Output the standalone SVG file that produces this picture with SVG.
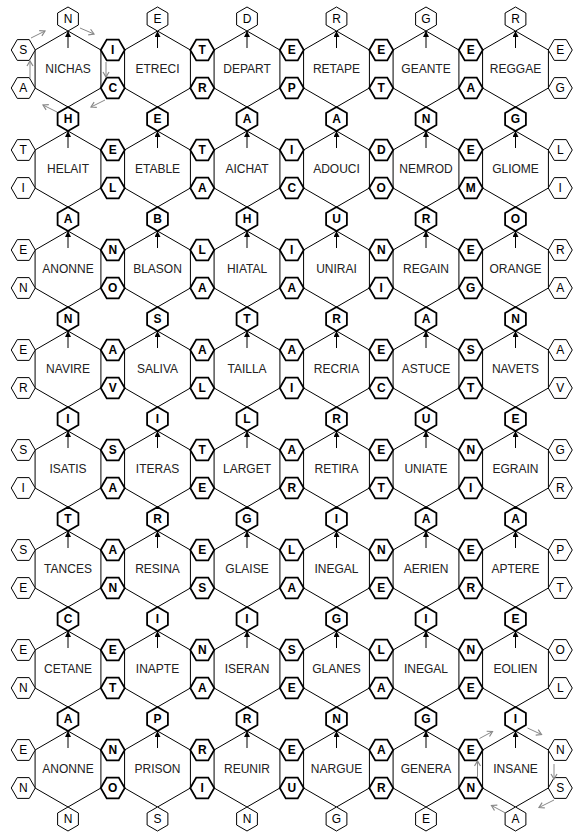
<svg xmlns="http://www.w3.org/2000/svg" width="575" height="834" viewBox="0 0 575 834">
<style>
text{font-family:"Liberation Sans",Arial,Helvetica,sans-serif;text-anchor:middle}
.big use{fill:none;stroke:#000;stroke-width:1}
.big text{font-size:12px;fill:#222}
.t use,.b use{fill:#fff;stroke:#000}
.t use{stroke-width:1}
.b use{stroke-width:1.8}
.t text,.b text{font-size:12px;fill:#000}
.b text{font-weight:bold}
.ar path{fill:none;stroke:#000;stroke-width:1;marker-end:url(#ah)}
.gr path{fill:none;stroke:#888;stroke-width:1;marker-end:url(#ga)}
</style>
<defs>
<polygon id="BH" points="0,-38 32.91,-19 32.91,19 0,38 -32.91,19 -32.91,-19"/>
<polygon id="sv" points="0,-12 10.39,-6 10.39,6 0,12 -10.39,6 -10.39,-6"/>
<polygon id="sh" points="-12,0 -6,-10.39 6,-10.39 12,0 6,10.39 -6,10.39"/>
<marker id="ah" markerWidth="7" markerHeight="6" refX="6" refY="3" orient="auto" markerUnits="userSpaceOnUse"><path d="M0,0 L6,3 L0,6 z" fill="#000"/></marker>
<marker id="ga" markerWidth="8" markerHeight="8" refX="6" refY="4" orient="auto" markerUnits="userSpaceOnUse"><path d="M1,1 L6,4 L1,7" fill="none" stroke="#888" stroke-width="1.2"/></marker>
</defs>
<rect width="575" height="834" fill="#fff"/>
<g id="big-hexes">
<g id="hex-1-1" class="big" transform="translate(68,69)"><use href="#BH"/><text y="4.3">NICHAS</text></g>
<g id="hex-1-2" class="big" transform="translate(157.5,69)"><use href="#BH"/><text y="4.3">ETRECI</text></g>
<g id="hex-1-3" class="big" transform="translate(247,69)"><use href="#BH"/><text y="4.3">DEPART</text></g>
<g id="hex-1-4" class="big" transform="translate(336.5,69)"><use href="#BH"/><text y="4.3">RETAPE</text></g>
<g id="hex-1-5" class="big" transform="translate(426,69)"><use href="#BH"/><text y="4.3">GEANTE</text></g>
<g id="hex-1-6" class="big" transform="translate(515.5,69)"><use href="#BH"/><text y="4.3">REGGAE</text></g>
<g id="hex-2-1" class="big" transform="translate(68,169)"><use href="#BH"/><text y="4.3">HELAIT</text></g>
<g id="hex-2-2" class="big" transform="translate(157.5,169)"><use href="#BH"/><text y="4.3">ETABLE</text></g>
<g id="hex-2-3" class="big" transform="translate(247,169)"><use href="#BH"/><text y="4.3">AICHAT</text></g>
<g id="hex-2-4" class="big" transform="translate(336.5,169)"><use href="#BH"/><text y="4.3">ADOUCI</text></g>
<g id="hex-2-5" class="big" transform="translate(426,169)"><use href="#BH"/><text y="4.3">NEMROD</text></g>
<g id="hex-2-6" class="big" transform="translate(515.5,169)"><use href="#BH"/><text y="4.3">GLIOME</text></g>
<g id="hex-3-1" class="big" transform="translate(68,269)"><use href="#BH"/><text y="4.3">ANONNE</text></g>
<g id="hex-3-2" class="big" transform="translate(157.5,269)"><use href="#BH"/><text y="4.3">BLASON</text></g>
<g id="hex-3-3" class="big" transform="translate(247,269)"><use href="#BH"/><text y="4.3">HIATAL</text></g>
<g id="hex-3-4" class="big" transform="translate(336.5,269)"><use href="#BH"/><text y="4.3">UNIRAI</text></g>
<g id="hex-3-5" class="big" transform="translate(426,269)"><use href="#BH"/><text y="4.3">REGAIN</text></g>
<g id="hex-3-6" class="big" transform="translate(515.5,269)"><use href="#BH"/><text y="4.3">ORANGE</text></g>
<g id="hex-4-1" class="big" transform="translate(68,369)"><use href="#BH"/><text y="4.3">NAVIRE</text></g>
<g id="hex-4-2" class="big" transform="translate(157.5,369)"><use href="#BH"/><text y="4.3">SALIVA</text></g>
<g id="hex-4-3" class="big" transform="translate(247,369)"><use href="#BH"/><text y="4.3">TAILLA</text></g>
<g id="hex-4-4" class="big" transform="translate(336.5,369)"><use href="#BH"/><text y="4.3">RECRIA</text></g>
<g id="hex-4-5" class="big" transform="translate(426,369)"><use href="#BH"/><text y="4.3">ASTUCE</text></g>
<g id="hex-4-6" class="big" transform="translate(515.5,369)"><use href="#BH"/><text y="4.3">NAVETS</text></g>
<g id="hex-5-1" class="big" transform="translate(68,469)"><use href="#BH"/><text y="4.3">ISATIS</text></g>
<g id="hex-5-2" class="big" transform="translate(157.5,469)"><use href="#BH"/><text y="4.3">ITERAS</text></g>
<g id="hex-5-3" class="big" transform="translate(247,469)"><use href="#BH"/><text y="4.3">LARGET</text></g>
<g id="hex-5-4" class="big" transform="translate(336.5,469)"><use href="#BH"/><text y="4.3">RETIRA</text></g>
<g id="hex-5-5" class="big" transform="translate(426,469)"><use href="#BH"/><text y="4.3">UNIATE</text></g>
<g id="hex-5-6" class="big" transform="translate(515.5,469)"><use href="#BH"/><text y="4.3">EGRAIN</text></g>
<g id="hex-6-1" class="big" transform="translate(68,569)"><use href="#BH"/><text y="4.3">TANCES</text></g>
<g id="hex-6-2" class="big" transform="translate(157.5,569)"><use href="#BH"/><text y="4.3">RESINA</text></g>
<g id="hex-6-3" class="big" transform="translate(247,569)"><use href="#BH"/><text y="4.3">GLAISE</text></g>
<g id="hex-6-4" class="big" transform="translate(336.5,569)"><use href="#BH"/><text y="4.3">INEGAL</text></g>
<g id="hex-6-5" class="big" transform="translate(426,569)"><use href="#BH"/><text y="4.3">AERIEN</text></g>
<g id="hex-6-6" class="big" transform="translate(515.5,569)"><use href="#BH"/><text y="4.3">APTERE</text></g>
<g id="hex-7-1" class="big" transform="translate(68,669)"><use href="#BH"/><text y="4.3">CETANE</text></g>
<g id="hex-7-2" class="big" transform="translate(157.5,669)"><use href="#BH"/><text y="4.3">INAPTE</text></g>
<g id="hex-7-3" class="big" transform="translate(247,669)"><use href="#BH"/><text y="4.3">ISERAN</text></g>
<g id="hex-7-4" class="big" transform="translate(336.5,669)"><use href="#BH"/><text y="4.3">GLANES</text></g>
<g id="hex-7-5" class="big" transform="translate(426,669)"><use href="#BH"/><text y="4.3">INEGAL</text></g>
<g id="hex-7-6" class="big" transform="translate(515.5,669)"><use href="#BH"/><text y="4.3">EOLIEN</text></g>
<g id="hex-8-1" class="big" transform="translate(68,769)"><use href="#BH"/><text y="4.3">ANONNE</text></g>
<g id="hex-8-2" class="big" transform="translate(157.5,769)"><use href="#BH"/><text y="4.3">PRISON</text></g>
<g id="hex-8-3" class="big" transform="translate(247,769)"><use href="#BH"/><text y="4.3">REUNIR</text></g>
<g id="hex-8-4" class="big" transform="translate(336.5,769)"><use href="#BH"/><text y="4.3">NARGUE</text></g>
<g id="hex-8-5" class="big" transform="translate(426,769)"><use href="#BH"/><text y="4.3">GENERA</text></g>
<g id="hex-8-6" class="big" transform="translate(515.5,769)"><use href="#BH"/><text y="4.3">INSANE</text></g>
</g>
<g id="vertical-letters">
<g id="v0-1" class="t" transform="translate(68,19)"><use href="#sv"/><text y="4.3">N</text></g>
<g id="v0-2" class="t" transform="translate(157.5,19)"><use href="#sv"/><text y="4.3">E</text></g>
<g id="v0-3" class="t" transform="translate(247,19)"><use href="#sv"/><text y="4.3">D</text></g>
<g id="v0-4" class="t" transform="translate(336.5,19)"><use href="#sv"/><text y="4.3">R</text></g>
<g id="v0-5" class="t" transform="translate(426,19)"><use href="#sv"/><text y="4.3">G</text></g>
<g id="v0-6" class="t" transform="translate(515.5,19)"><use href="#sv"/><text y="4.3">R</text></g>
<g id="v1-1" class="b" transform="translate(68,119)"><use href="#sv"/><text y="4.3">H</text></g>
<g id="v1-2" class="b" transform="translate(157.5,119)"><use href="#sv"/><text y="4.3">E</text></g>
<g id="v1-3" class="b" transform="translate(247,119)"><use href="#sv"/><text y="4.3">A</text></g>
<g id="v1-4" class="b" transform="translate(336.5,119)"><use href="#sv"/><text y="4.3">A</text></g>
<g id="v1-5" class="b" transform="translate(426,119)"><use href="#sv"/><text y="4.3">N</text></g>
<g id="v1-6" class="b" transform="translate(515.5,119)"><use href="#sv"/><text y="4.3">G</text></g>
<g id="v2-1" class="b" transform="translate(68,219)"><use href="#sv"/><text y="4.3">A</text></g>
<g id="v2-2" class="b" transform="translate(157.5,219)"><use href="#sv"/><text y="4.3">B</text></g>
<g id="v2-3" class="b" transform="translate(247,219)"><use href="#sv"/><text y="4.3">H</text></g>
<g id="v2-4" class="b" transform="translate(336.5,219)"><use href="#sv"/><text y="4.3">U</text></g>
<g id="v2-5" class="b" transform="translate(426,219)"><use href="#sv"/><text y="4.3">R</text></g>
<g id="v2-6" class="b" transform="translate(515.5,219)"><use href="#sv"/><text y="4.3">O</text></g>
<g id="v3-1" class="b" transform="translate(68,319)"><use href="#sv"/><text y="4.3">N</text></g>
<g id="v3-2" class="b" transform="translate(157.5,319)"><use href="#sv"/><text y="4.3">S</text></g>
<g id="v3-3" class="b" transform="translate(247,319)"><use href="#sv"/><text y="4.3">T</text></g>
<g id="v3-4" class="b" transform="translate(336.5,319)"><use href="#sv"/><text y="4.3">R</text></g>
<g id="v3-5" class="b" transform="translate(426,319)"><use href="#sv"/><text y="4.3">A</text></g>
<g id="v3-6" class="b" transform="translate(515.5,319)"><use href="#sv"/><text y="4.3">N</text></g>
<g id="v4-1" class="b" transform="translate(68,419)"><use href="#sv"/><text y="4.3">I</text></g>
<g id="v4-2" class="b" transform="translate(157.5,419)"><use href="#sv"/><text y="4.3">I</text></g>
<g id="v4-3" class="b" transform="translate(247,419)"><use href="#sv"/><text y="4.3">L</text></g>
<g id="v4-4" class="b" transform="translate(336.5,419)"><use href="#sv"/><text y="4.3">R</text></g>
<g id="v4-5" class="b" transform="translate(426,419)"><use href="#sv"/><text y="4.3">U</text></g>
<g id="v4-6" class="b" transform="translate(515.5,419)"><use href="#sv"/><text y="4.3">E</text></g>
<g id="v5-1" class="b" transform="translate(68,519)"><use href="#sv"/><text y="4.3">T</text></g>
<g id="v5-2" class="b" transform="translate(157.5,519)"><use href="#sv"/><text y="4.3">R</text></g>
<g id="v5-3" class="b" transform="translate(247,519)"><use href="#sv"/><text y="4.3">G</text></g>
<g id="v5-4" class="b" transform="translate(336.5,519)"><use href="#sv"/><text y="4.3">I</text></g>
<g id="v5-5" class="b" transform="translate(426,519)"><use href="#sv"/><text y="4.3">A</text></g>
<g id="v5-6" class="b" transform="translate(515.5,519)"><use href="#sv"/><text y="4.3">A</text></g>
<g id="v6-1" class="b" transform="translate(68,619)"><use href="#sv"/><text y="4.3">C</text></g>
<g id="v6-2" class="b" transform="translate(157.5,619)"><use href="#sv"/><text y="4.3">I</text></g>
<g id="v6-3" class="b" transform="translate(247,619)"><use href="#sv"/><text y="4.3">I</text></g>
<g id="v6-4" class="b" transform="translate(336.5,619)"><use href="#sv"/><text y="4.3">G</text></g>
<g id="v6-5" class="b" transform="translate(426,619)"><use href="#sv"/><text y="4.3">I</text></g>
<g id="v6-6" class="b" transform="translate(515.5,619)"><use href="#sv"/><text y="4.3">E</text></g>
<g id="v7-1" class="b" transform="translate(68,719)"><use href="#sv"/><text y="4.3">A</text></g>
<g id="v7-2" class="b" transform="translate(157.5,719)"><use href="#sv"/><text y="4.3">P</text></g>
<g id="v7-3" class="b" transform="translate(247,719)"><use href="#sv"/><text y="4.3">R</text></g>
<g id="v7-4" class="b" transform="translate(336.5,719)"><use href="#sv"/><text y="4.3">N</text></g>
<g id="v7-5" class="b" transform="translate(426,719)"><use href="#sv"/><text y="4.3">G</text></g>
<g id="v7-6" class="b" transform="translate(515.5,719)"><use href="#sv"/><text y="4.3">I</text></g>
<g id="v8-1" class="t" transform="translate(68,819)"><use href="#sv"/><text y="4.3">N</text></g>
<g id="v8-2" class="t" transform="translate(157.5,819)"><use href="#sv"/><text y="4.3">S</text></g>
<g id="v8-3" class="t" transform="translate(247,819)"><use href="#sv"/><text y="4.3">N</text></g>
<g id="v8-4" class="t" transform="translate(336.5,819)"><use href="#sv"/><text y="4.3">G</text></g>
<g id="v8-5" class="t" transform="translate(426,819)"><use href="#sv"/><text y="4.3">E</text></g>
<g id="v8-6" class="t" transform="translate(515.5,819)"><use href="#sv"/><text y="4.3">A</text></g>
</g>
<g id="side-letters">
<g id="s1u-0" class="t" transform="translate(23.25,50)"><use href="#sh"/><text y="4.3">S</text></g>
<g id="s1u-1" class="b" transform="translate(112.75,50)"><use href="#sh"/><text y="4.3">I</text></g>
<g id="s1u-2" class="b" transform="translate(202.25,50)"><use href="#sh"/><text y="4.3">T</text></g>
<g id="s1u-3" class="b" transform="translate(291.75,50)"><use href="#sh"/><text y="4.3">E</text></g>
<g id="s1u-4" class="b" transform="translate(381.25,50)"><use href="#sh"/><text y="4.3">E</text></g>
<g id="s1u-5" class="b" transform="translate(470.75,50)"><use href="#sh"/><text y="4.3">E</text></g>
<g id="s1u-6" class="t" transform="translate(560.25,50)"><use href="#sh"/><text y="4.3">E</text></g>
<g id="s1l-0" class="t" transform="translate(23.25,88)"><use href="#sh"/><text y="4.3">A</text></g>
<g id="s1l-1" class="b" transform="translate(112.75,88)"><use href="#sh"/><text y="4.3">C</text></g>
<g id="s1l-2" class="b" transform="translate(202.25,88)"><use href="#sh"/><text y="4.3">R</text></g>
<g id="s1l-3" class="b" transform="translate(291.75,88)"><use href="#sh"/><text y="4.3">P</text></g>
<g id="s1l-4" class="b" transform="translate(381.25,88)"><use href="#sh"/><text y="4.3">T</text></g>
<g id="s1l-5" class="b" transform="translate(470.75,88)"><use href="#sh"/><text y="4.3">A</text></g>
<g id="s1l-6" class="t" transform="translate(560.25,88)"><use href="#sh"/><text y="4.3">G</text></g>
<g id="s2u-0" class="t" transform="translate(23.25,150)"><use href="#sh"/><text y="4.3">T</text></g>
<g id="s2u-1" class="b" transform="translate(112.75,150)"><use href="#sh"/><text y="4.3">E</text></g>
<g id="s2u-2" class="b" transform="translate(202.25,150)"><use href="#sh"/><text y="4.3">T</text></g>
<g id="s2u-3" class="b" transform="translate(291.75,150)"><use href="#sh"/><text y="4.3">I</text></g>
<g id="s2u-4" class="b" transform="translate(381.25,150)"><use href="#sh"/><text y="4.3">D</text></g>
<g id="s2u-5" class="b" transform="translate(470.75,150)"><use href="#sh"/><text y="4.3">E</text></g>
<g id="s2u-6" class="t" transform="translate(560.25,150)"><use href="#sh"/><text y="4.3">L</text></g>
<g id="s2l-0" class="t" transform="translate(23.25,188)"><use href="#sh"/><text y="4.3">I</text></g>
<g id="s2l-1" class="b" transform="translate(112.75,188)"><use href="#sh"/><text y="4.3">L</text></g>
<g id="s2l-2" class="b" transform="translate(202.25,188)"><use href="#sh"/><text y="4.3">A</text></g>
<g id="s2l-3" class="b" transform="translate(291.75,188)"><use href="#sh"/><text y="4.3">C</text></g>
<g id="s2l-4" class="b" transform="translate(381.25,188)"><use href="#sh"/><text y="4.3">O</text></g>
<g id="s2l-5" class="b" transform="translate(470.75,188)"><use href="#sh"/><text y="4.3">M</text></g>
<g id="s2l-6" class="t" transform="translate(560.25,188)"><use href="#sh"/><text y="4.3">I</text></g>
<g id="s3u-0" class="t" transform="translate(23.25,250)"><use href="#sh"/><text y="4.3">E</text></g>
<g id="s3u-1" class="b" transform="translate(112.75,250)"><use href="#sh"/><text y="4.3">N</text></g>
<g id="s3u-2" class="b" transform="translate(202.25,250)"><use href="#sh"/><text y="4.3">L</text></g>
<g id="s3u-3" class="b" transform="translate(291.75,250)"><use href="#sh"/><text y="4.3">I</text></g>
<g id="s3u-4" class="b" transform="translate(381.25,250)"><use href="#sh"/><text y="4.3">N</text></g>
<g id="s3u-5" class="b" transform="translate(470.75,250)"><use href="#sh"/><text y="4.3">E</text></g>
<g id="s3u-6" class="t" transform="translate(560.25,250)"><use href="#sh"/><text y="4.3">R</text></g>
<g id="s3l-0" class="t" transform="translate(23.25,288)"><use href="#sh"/><text y="4.3">N</text></g>
<g id="s3l-1" class="b" transform="translate(112.75,288)"><use href="#sh"/><text y="4.3">O</text></g>
<g id="s3l-2" class="b" transform="translate(202.25,288)"><use href="#sh"/><text y="4.3">A</text></g>
<g id="s3l-3" class="b" transform="translate(291.75,288)"><use href="#sh"/><text y="4.3">A</text></g>
<g id="s3l-4" class="b" transform="translate(381.25,288)"><use href="#sh"/><text y="4.3">I</text></g>
<g id="s3l-5" class="b" transform="translate(470.75,288)"><use href="#sh"/><text y="4.3">G</text></g>
<g id="s3l-6" class="t" transform="translate(560.25,288)"><use href="#sh"/><text y="4.3">A</text></g>
<g id="s4u-0" class="t" transform="translate(23.25,350)"><use href="#sh"/><text y="4.3">E</text></g>
<g id="s4u-1" class="b" transform="translate(112.75,350)"><use href="#sh"/><text y="4.3">A</text></g>
<g id="s4u-2" class="b" transform="translate(202.25,350)"><use href="#sh"/><text y="4.3">A</text></g>
<g id="s4u-3" class="b" transform="translate(291.75,350)"><use href="#sh"/><text y="4.3">A</text></g>
<g id="s4u-4" class="b" transform="translate(381.25,350)"><use href="#sh"/><text y="4.3">E</text></g>
<g id="s4u-5" class="b" transform="translate(470.75,350)"><use href="#sh"/><text y="4.3">S</text></g>
<g id="s4u-6" class="t" transform="translate(560.25,350)"><use href="#sh"/><text y="4.3">A</text></g>
<g id="s4l-0" class="t" transform="translate(23.25,388)"><use href="#sh"/><text y="4.3">R</text></g>
<g id="s4l-1" class="b" transform="translate(112.75,388)"><use href="#sh"/><text y="4.3">V</text></g>
<g id="s4l-2" class="b" transform="translate(202.25,388)"><use href="#sh"/><text y="4.3">L</text></g>
<g id="s4l-3" class="b" transform="translate(291.75,388)"><use href="#sh"/><text y="4.3">I</text></g>
<g id="s4l-4" class="b" transform="translate(381.25,388)"><use href="#sh"/><text y="4.3">C</text></g>
<g id="s4l-5" class="b" transform="translate(470.75,388)"><use href="#sh"/><text y="4.3">T</text></g>
<g id="s4l-6" class="t" transform="translate(560.25,388)"><use href="#sh"/><text y="4.3">V</text></g>
<g id="s5u-0" class="t" transform="translate(23.25,450)"><use href="#sh"/><text y="4.3">S</text></g>
<g id="s5u-1" class="b" transform="translate(112.75,450)"><use href="#sh"/><text y="4.3">S</text></g>
<g id="s5u-2" class="b" transform="translate(202.25,450)"><use href="#sh"/><text y="4.3">T</text></g>
<g id="s5u-3" class="b" transform="translate(291.75,450)"><use href="#sh"/><text y="4.3">A</text></g>
<g id="s5u-4" class="b" transform="translate(381.25,450)"><use href="#sh"/><text y="4.3">E</text></g>
<g id="s5u-5" class="b" transform="translate(470.75,450)"><use href="#sh"/><text y="4.3">N</text></g>
<g id="s5u-6" class="t" transform="translate(560.25,450)"><use href="#sh"/><text y="4.3">G</text></g>
<g id="s5l-0" class="t" transform="translate(23.25,488)"><use href="#sh"/><text y="4.3">I</text></g>
<g id="s5l-1" class="b" transform="translate(112.75,488)"><use href="#sh"/><text y="4.3">A</text></g>
<g id="s5l-2" class="b" transform="translate(202.25,488)"><use href="#sh"/><text y="4.3">E</text></g>
<g id="s5l-3" class="b" transform="translate(291.75,488)"><use href="#sh"/><text y="4.3">R</text></g>
<g id="s5l-4" class="b" transform="translate(381.25,488)"><use href="#sh"/><text y="4.3">T</text></g>
<g id="s5l-5" class="b" transform="translate(470.75,488)"><use href="#sh"/><text y="4.3">I</text></g>
<g id="s5l-6" class="t" transform="translate(560.25,488)"><use href="#sh"/><text y="4.3">R</text></g>
<g id="s6u-0" class="t" transform="translate(23.25,550)"><use href="#sh"/><text y="4.3">S</text></g>
<g id="s6u-1" class="b" transform="translate(112.75,550)"><use href="#sh"/><text y="4.3">A</text></g>
<g id="s6u-2" class="b" transform="translate(202.25,550)"><use href="#sh"/><text y="4.3">E</text></g>
<g id="s6u-3" class="b" transform="translate(291.75,550)"><use href="#sh"/><text y="4.3">L</text></g>
<g id="s6u-4" class="b" transform="translate(381.25,550)"><use href="#sh"/><text y="4.3">N</text></g>
<g id="s6u-5" class="b" transform="translate(470.75,550)"><use href="#sh"/><text y="4.3">E</text></g>
<g id="s6u-6" class="t" transform="translate(560.25,550)"><use href="#sh"/><text y="4.3">P</text></g>
<g id="s6l-0" class="t" transform="translate(23.25,588)"><use href="#sh"/><text y="4.3">E</text></g>
<g id="s6l-1" class="b" transform="translate(112.75,588)"><use href="#sh"/><text y="4.3">N</text></g>
<g id="s6l-2" class="b" transform="translate(202.25,588)"><use href="#sh"/><text y="4.3">S</text></g>
<g id="s6l-3" class="b" transform="translate(291.75,588)"><use href="#sh"/><text y="4.3">A</text></g>
<g id="s6l-4" class="b" transform="translate(381.25,588)"><use href="#sh"/><text y="4.3">E</text></g>
<g id="s6l-5" class="b" transform="translate(470.75,588)"><use href="#sh"/><text y="4.3">R</text></g>
<g id="s6l-6" class="t" transform="translate(560.25,588)"><use href="#sh"/><text y="4.3">T</text></g>
<g id="s7u-0" class="t" transform="translate(23.25,650)"><use href="#sh"/><text y="4.3">E</text></g>
<g id="s7u-1" class="b" transform="translate(112.75,650)"><use href="#sh"/><text y="4.3">E</text></g>
<g id="s7u-2" class="b" transform="translate(202.25,650)"><use href="#sh"/><text y="4.3">N</text></g>
<g id="s7u-3" class="b" transform="translate(291.75,650)"><use href="#sh"/><text y="4.3">S</text></g>
<g id="s7u-4" class="b" transform="translate(381.25,650)"><use href="#sh"/><text y="4.3">L</text></g>
<g id="s7u-5" class="b" transform="translate(470.75,650)"><use href="#sh"/><text y="4.3">N</text></g>
<g id="s7u-6" class="t" transform="translate(560.25,650)"><use href="#sh"/><text y="4.3">O</text></g>
<g id="s7l-0" class="t" transform="translate(23.25,688)"><use href="#sh"/><text y="4.3">N</text></g>
<g id="s7l-1" class="b" transform="translate(112.75,688)"><use href="#sh"/><text y="4.3">T</text></g>
<g id="s7l-2" class="b" transform="translate(202.25,688)"><use href="#sh"/><text y="4.3">A</text></g>
<g id="s7l-3" class="b" transform="translate(291.75,688)"><use href="#sh"/><text y="4.3">E</text></g>
<g id="s7l-4" class="b" transform="translate(381.25,688)"><use href="#sh"/><text y="4.3">A</text></g>
<g id="s7l-5" class="b" transform="translate(470.75,688)"><use href="#sh"/><text y="4.3">E</text></g>
<g id="s7l-6" class="t" transform="translate(560.25,688)"><use href="#sh"/><text y="4.3">L</text></g>
<g id="s8u-0" class="t" transform="translate(23.25,750)"><use href="#sh"/><text y="4.3">E</text></g>
<g id="s8u-1" class="b" transform="translate(112.75,750)"><use href="#sh"/><text y="4.3">N</text></g>
<g id="s8u-2" class="b" transform="translate(202.25,750)"><use href="#sh"/><text y="4.3">R</text></g>
<g id="s8u-3" class="b" transform="translate(291.75,750)"><use href="#sh"/><text y="4.3">E</text></g>
<g id="s8u-4" class="b" transform="translate(381.25,750)"><use href="#sh"/><text y="4.3">A</text></g>
<g id="s8u-5" class="b" transform="translate(470.75,750)"><use href="#sh"/><text y="4.3">E</text></g>
<g id="s8u-6" class="t" transform="translate(560.25,750)"><use href="#sh"/><text y="4.3">N</text></g>
<g id="s8l-0" class="t" transform="translate(23.25,788)"><use href="#sh"/><text y="4.3">N</text></g>
<g id="s8l-1" class="b" transform="translate(112.75,788)"><use href="#sh"/><text y="4.3">O</text></g>
<g id="s8l-2" class="b" transform="translate(202.25,788)"><use href="#sh"/><text y="4.3">I</text></g>
<g id="s8l-3" class="b" transform="translate(291.75,788)"><use href="#sh"/><text y="4.3">U</text></g>
<g id="s8l-4" class="b" transform="translate(381.25,788)"><use href="#sh"/><text y="4.3">R</text></g>
<g id="s8l-5" class="b" transform="translate(470.75,788)"><use href="#sh"/><text y="4.3">N</text></g>
<g id="s8l-6" class="t" transform="translate(560.25,788)"><use href="#sh"/><text y="4.3">S</text></g>
</g>
<g id="connectors">
<g class="ar">
<path d="M68,48V31"/><path d="M157.5,48V31"/><path d="M247,48V31"/><path d="M336.5,48V31"/><path d="M426,48V31"/><path d="M515.5,48V31"/>
<path d="M68,148V131"/><path d="M157.5,148V131"/><path d="M247,148V131"/><path d="M336.5,148V131"/><path d="M426,148V131"/><path d="M515.5,148V131"/>
<path d="M68,248V231"/><path d="M157.5,248V231"/><path d="M247,248V231"/><path d="M336.5,248V231"/><path d="M426,248V231"/><path d="M515.5,248V231"/>
<path d="M68,348V331"/><path d="M157.5,348V331"/><path d="M247,348V331"/><path d="M336.5,348V331"/><path d="M426,348V331"/><path d="M515.5,348V331"/>
<path d="M68,448V431"/><path d="M157.5,448V431"/><path d="M247,448V431"/><path d="M336.5,448V431"/><path d="M426,448V431"/><path d="M515.5,448V431"/>
<path d="M68,548V531"/><path d="M157.5,548V531"/><path d="M247,548V531"/><path d="M336.5,548V531"/><path d="M426,548V531"/><path d="M515.5,548V531"/>
<path d="M68,648V631"/><path d="M157.5,648V631"/><path d="M247,648V631"/><path d="M336.5,648V631"/><path d="M426,648V631"/><path d="M515.5,648V631"/>
<path d="M68,748V731"/><path d="M157.5,748V731"/><path d="M247,748V731"/><path d="M336.5,748V731"/><path d="M426,748V731"/><path d="M515.5,748V731"/>
</g>
<g class="gr">
<path d="M31,38L45,31"/><path d="M80,28L94,34"/><path d="M106,62V77"/><path d="M105,100L91,107"/><path d="M57,112L43,105"/><path d="M30,78V61"/>
<path d="M479.5,738.5L492.5,731.5"/><path d="M527.5,728L541.5,734.5"/><path d="M554,764V779"/><path d="M554,800L539,807.5"/><path d="M505.5,813L491.5,805.5"/><path d="M477.5,778V761"/>
</g>
</g>
</svg>
